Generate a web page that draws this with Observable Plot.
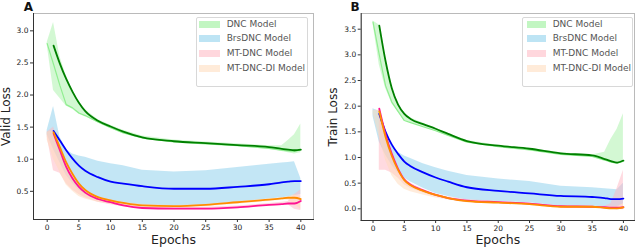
<!DOCTYPE html>
<html><head><meta charset="utf-8">
<script src="https://cdn.jsdelivr.net/npm/d3@7"></script>
<script src="https://cdn.jsdelivr.net/npm/@observablehq/plot@0.6"></script>
<style>
body{margin:0;background:#fff;font-family:"DejaVu Sans",sans-serif;}
#wrap{display:flex;width:640px;height:247px;}
.panel{position:relative;width:320px;height:247px;}
.legend{position:absolute;border:1px solid #d8d8d8;border-radius:2px;background:rgba(255,255,255,0.85);box-sizing:border-box;font-size:9px;color:#555;}
.row{position:absolute;left:0;right:0;height:15px;}
.sw{position:absolute;top:4px;height:7px;}
.lt{position:absolute;top:0;line-height:15px;white-space:nowrap;}
</style></head><body><div id="wrap"></div><script>
// ---- data ----
const models = ["DNC Model", "BrsDNC Model", "MT-DNC Model", "MT-DNC-DI Model"];
const bandColors = ["#90ee90", "#87ceeb", "#ffb6c1", "#ffdab9"];
const lineColors = ["#008000", "#0000ff", "#ff1493", "#ff8c00"];
const epochs = [0,1,2,3,4,5,6,8,10,12,15,20,25,30,35,37,38,39,40];
const xTicks = [0,5,10,15,20,25,30,35,40];
const yTicksA = [0.5,1.0,1.5,2.0,2.5,3.0];
const yTicksB = [0.0,0.5,1.0,1.5,2.0,2.5,3.0,3.5];

// Panel A: Valid loss
const dncA    = [null,2.77,2.49,2.25,2.05,1.88,1.75,1.60,1.51,1.43,1.34,1.28,1.25,1.22,1.19,1.16,1.15,1.14,1.15];
const dncA_lo = [2.78,2.07,1.95,1.83,1.78,1.70,1.66,1.57,1.48,1.40,1.32,1.26,1.23,1.20,1.15,1.12,1.10,1.08,1.10];
const dncA_hi = [2.82,3.13,2.60,2.30,2.08,1.90,1.77,1.62,1.53,1.45,1.36,1.30,1.27,1.24,1.21,1.21,1.29,1.38,1.55];
const dncA_raw= [2.80,2.48,2.15,1.85,1.80,1.72,1.68,1.58,1.49,1.41,1.33,1.27,1.24,1.21,1.17,1.14,1.13,1.12,1.15];
const brsA    = [null,1.44,1.29,1.14,1.01,0.90,0.82,0.72,0.65,0.62,0.58,0.54,0.54,0.57,0.61,0.64,0.65,0.66,0.66];
const brsA_lo = [1.38,1.15,0.95,0.75,0.62,0.52,0.45,0.36,0.32,0.30,0.28,0.27,0.28,0.33,0.38,0.40,0.41,0.43,0.45];
const brsA_hi = [1.45,1.82,1.35,1.15,1.08,1.05,1.03,0.97,0.93,0.90,0.83,0.80,0.82,0.87,0.92,0.94,0.95,0.96,0.70];
const mtA     = [null,1.40,1.14,0.88,0.70,0.57,0.48,0.38,0.33,0.28,0.24,0.23,0.23,0.25,0.29,0.30,0.31,0.31,0.35];
const mtA_lo  = [1.35,0.82,0.78,0.62,0.52,0.45,0.40,0.33,0.29,0.26,0.22,0.21,0.21,0.23,0.27,0.28,0.29,0.22,0.20];
const mtA_hi  = [1.42,1.50,1.20,0.95,0.75,0.60,0.51,0.41,0.36,0.31,0.26,0.25,0.25,0.27,0.31,0.33,0.34,0.45,0.52];
const diA     = [null,1.42,1.19,0.95,0.77,0.62,0.52,0.41,0.36,0.32,0.28,0.27,0.29,0.33,0.37,0.39,0.40,0.40,0.38];
const diA_lo  = [1.30,1.00,0.80,0.60,0.50,0.42,0.38,0.33,0.30,0.28,0.25,0.24,0.26,0.30,0.34,0.36,0.36,0.30,0.22];
const diA_hi  = [1.42,1.45,1.20,0.95,0.78,0.62,0.52,0.42,0.37,0.33,0.30,0.28,0.30,0.34,0.38,0.40,0.41,0.45,0.42];

// Panel B: Train loss
const dncB    = [null,3.57,2.88,2.35,2.03,1.85,1.75,1.65,1.56,1.46,1.32,1.23,1.17,1.08,1.04,0.97,0.93,0.90,0.94];
const dncB_lo = [3.60,2.80,2.35,2.05,1.88,1.72,1.68,1.60,1.51,1.42,1.29,1.20,1.14,1.05,1.01,0.94,0.90,0.88,0.90];
const dncB_hi = [3.66,3.58,2.90,2.40,2.05,1.87,1.77,1.67,1.57,1.47,1.33,1.24,1.18,1.09,1.05,1.10,1.35,1.55,1.85];
const dncB_raw= [3.64,3.00,2.40,2.08,1.90,1.72,1.68,1.60,1.52,1.43,1.30,1.21,1.15,1.06,1.02,0.95,0.91,0.89,0.93];
const brsB    = [null,1.85,1.50,1.25,1.07,0.92,0.83,0.71,0.61,0.53,0.42,0.35,0.30,0.25,0.23,0.21,0.19,0.19,0.20];
const brsB_lo = [1.80,1.30,1.05,0.85,0.70,0.60,0.52,0.40,0.30,0.24,0.17,0.14,0.12,0.05,0.05,0.04,0.03,0.03,0.10];
const brsB_hi = [1.95,1.90,1.55,1.25,1.10,1.03,0.98,0.88,0.80,0.73,0.65,0.58,0.53,0.44,0.41,0.39,0.38,0.37,0.50];
const mtB     = [null,1.95,1.45,1.07,0.78,0.57,0.47,0.36,0.27,0.21,0.16,0.13,0.10,0.05,0.04,0.03,0.02,0.02,0.03];
const mtB_lo  = [null,0.75,0.75,0.70,0.60,0.47,0.40,0.31,0.24,0.18,0.14,0.11,0.08,0.03,0.02,0.01,0.00,-0.02,0.00];
const mtB_hi  = [null,1.95,1.45,1.07,0.82,0.60,0.50,0.38,0.29,0.23,0.18,0.14,0.11,0.06,0.05,0.05,0.10,0.40,0.75];
const diB     = [null,1.90,1.40,1.03,0.76,0.56,0.46,0.35,0.27,0.21,0.15,0.12,0.09,0.04,0.04,0.02,0.01,0.01,0.03];
const diB_lo  = [1.85,1.40,0.95,0.65,0.48,0.38,0.33,0.27,0.21,0.17,0.12,0.10,0.07,0.02,0.02,0.00,-0.01,-0.02,-0.02];
const diB_hi  = [1.92,1.92,1.42,1.05,0.78,0.58,0.48,0.36,0.28,0.22,0.16,0.13,0.10,0.05,0.05,0.03,0.03,0.05,0.10];

const panels = [
  {tag: "A", ylabel: "Valid Loss", yTicks: yTicksA,
   series: [[dncA, dncA_lo, dncA_hi, dncA_raw], [brsA, brsA_lo, brsA_hi, null], [mtA, mtA_lo, mtA_hi, null], [diA, diA_lo, diA_hi, null]],
   m: {l: 33, r: 7, t: 13, b: 28}, xd: [-2.16, 42.0], yd: [0.061, 3.27],
   lab: {ydx: -27.5, tagdx: -5, xdy: 20.8}, leg: {left: 195.7, top: 16.7, w: 112.3, h: 70, swl: 2.3, sww: 21, txl: 30}},
  {tag: "B", ylabel: "Train Loss", yTicks: yTicksB,
   series: [[dncB, dncB_lo, dncB_hi, dncB_raw], [brsB, brsB_lo, brsB_hi, null], [mtB, mtB_lo, mtB_hi, null], [diB, diB_lo, diB_hi, null]],
   m: {l: 40.7, r: 6, t: 13, b: 27}, xd: [-1.89, 41.77], yd: [-0.228, 3.806],
   lab: {ydx: -28.5, tagdx: -6, xdy: 19.8}, leg: {left: 201.7, top: 16.7, w: 111, h: 70.6, swl: 4.3, sww: 19, txl: 30}}
];

const wrap = document.getElementById("wrap");
for (const p of panels) {
  const div = document.createElement("div");
  div.className = "panel";
  const tables = p.series.map(([mid, lo, hi, raw]) => epochs.map((e, i) => ({epoch: e, mid: mid[i], lo: lo[i], hi: hi[i], raw: raw ? raw[i] : null})));
  const marks = [];
  tables.forEach((t, k) => marks.push(Plot.areaY(t, {x: "epoch", y1: "lo", y2: "hi", fill: bandColors[k], fillOpacity: k === 0 ? 0.4 : 0.5, clip: true})));
  tables.forEach((t, k) => { if (p.series[k][3]) marks.push(Plot.line(t, {x: "epoch", y: "raw", stroke: bandColors[k], strokeWidth: 1.2, curve: "linear", clip: true})); });
  tables.forEach((t, k) => marks.push(Plot.line(t, {x: "epoch", y: "mid", stroke: lineColors[k], strokeWidth: 1.8, curve: "monotone-x", clip: true})));
  marks.push(
    Plot.frame({stroke: "#aaa", strokeWidth: 0.8}),
    Plot.frame({anchor: "left", stroke: "#333", strokeWidth: 1}),
    Plot.frame({anchor: "bottom", stroke: "#333", strokeWidth: 1}),
    Plot.axisX({ticks: xTicks, tickSize: 3, tickPadding: 2, fontSize: 7.5, label: null, stroke: "#333", fill: "#222"}),
    Plot.axisY({ticks: p.yTicks, tickSize: 3, tickPadding: 2, fontSize: 7.5, label: null, tickFormat: d3.format(".1f"), stroke: "#333", fill: "#222"}),
    Plot.text([p.ylabel], {text: d => d, frameAnchor: "left", dx: p.lab.ydx, rotate: -90, textAnchor: "middle", lineAnchor: "middle", fontSize: 12, fill: "#222"}),
    Plot.text(["Epochs"], {text: d => d, frameAnchor: "bottom", dy: p.lab.xdy, textAnchor: "middle", lineAnchor: "middle", fontSize: 12.5, fill: "#222"}),
    Plot.text([p.tag], {text: d => d, frameAnchor: "top-left", dx: p.lab.tagdx, dy: -6.5, textAnchor: "middle", lineAnchor: "middle", fontSize: 12, fontWeight: "bold", fill: "#111"})
  );
  const chart = Plot.plot({
    width: 320, height: 247,
    marginLeft: p.m.l, marginRight: p.m.r, marginTop: p.m.t, marginBottom: p.m.b,
    style: {fontFamily: "DejaVu Sans", background: "white", overflow: "visible"},
    x: {domain: p.xd, label: null},
    y: {domain: p.yd, label: null},
    marks
  });
  div.appendChild(chart);
  // legend
  const L = p.leg;
  const lg = document.createElement("div");
  lg.className = "legend";
  Object.assign(lg.style, {left: L.left + "px", top: L.top + "px", width: L.w + "px", height: L.h + "px"});
  models.forEach((name, k) => {
    const row = document.createElement("div");
    row.className = "row";
    row.style.top = (7.3 + 15 * k - 7.5 - 1) + "px";
    const sw = document.createElement("div");
    sw.className = "sw";
    Object.assign(sw.style, {left: L.swl + "px", width: L.sww + "px", background: bandColors[k], opacity: 0.55});
    const tx = document.createElement("div");
    tx.className = "lt";
    tx.style.left = L.txl + "px";
    tx.textContent = name;
    row.appendChild(sw); row.appendChild(tx);
    lg.appendChild(row);
  });
  div.appendChild(lg);
  wrap.appendChild(div);
}
</script></body></html>
